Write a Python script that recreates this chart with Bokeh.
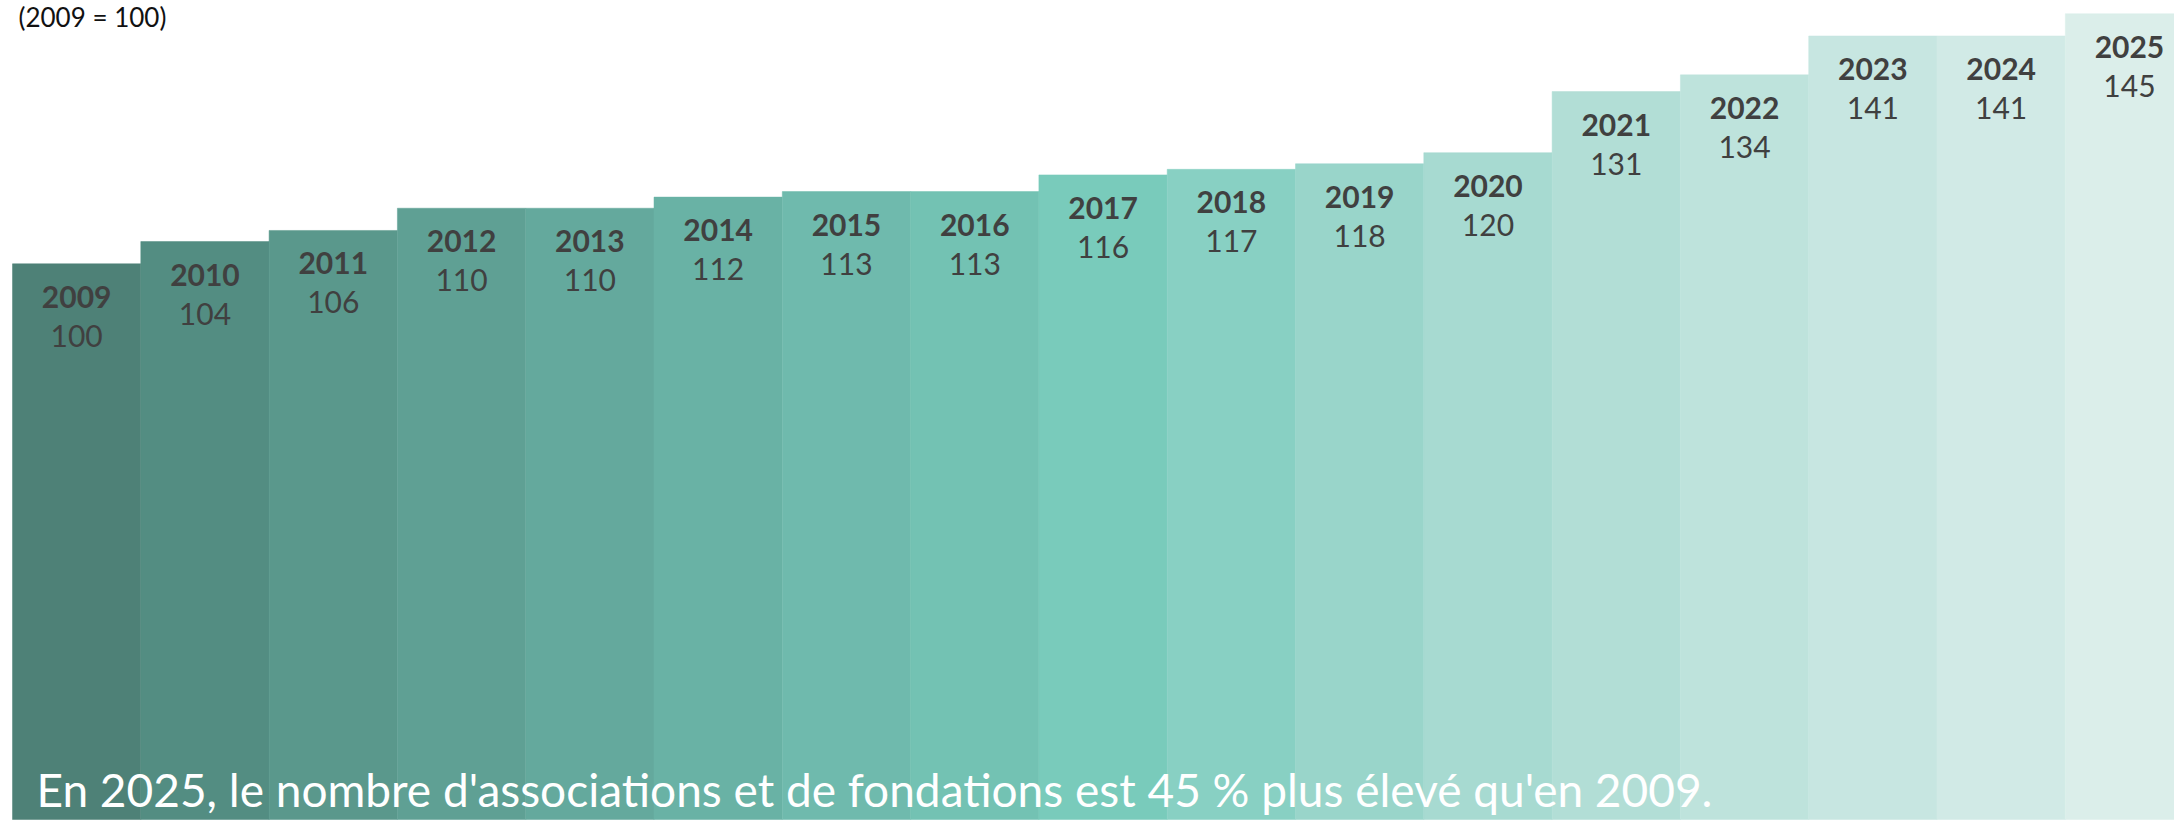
from bokeh.plotting import figure
from bokeh.models import ColumnDataSource, Range1d, Label
from bokeh.embed import file_html
from bokeh.resources import INLINE
from bokeh.core.properties import value

years = ["2009", "2010", "2011", "2012", "2013", "2014", "2015", "2016", "2017",
         "2018", "2019", "2020", "2021", "2022", "2023", "2024", "2025"]
values = [100, 104, 106, 110, 110, 112, 113, 113, 116, 117, 118, 120, 131, 134, 141, 141, 145]
colors = ["#4e8177", "#538d82", "#5a988c", "#5fa094", "#64a99d", "#69b2a5", "#6fbaad",
          "#73c2b3", "#79cbbb", "#88d0c3", "#99d5ca", "#a7dad1", "#b2ded6", "#bee3dc",
          "#c7e6e1", "#d1eae6", "#dbeeea"]
subtitle = "(2009 = 100)"
note = "En 2025, le nombre d'associations et de fondations est 45 % plus élevé qu'en 2009."

W, H = 2174, 820
px_x = 128.3
px_y = 5.557
x0 = -12 / px_x
y0 = -1 / px_y

src = ColumnDataSource(dict(
    x=[i + 0.5 for i in range(len(years))],
    top=values,
    year=years,
    label=[str(v) for v in values],
    color=colors,
))

p = figure(width=W, height=H, output_backend="svg", toolbar_location=None,
           x_axis_type=None, y_axis_type=None,
           x_range=Range1d(x0, x0 + W / px_x), y_range=Range1d(y0, y0 + H / px_y),
           min_border=0, outline_line_color=None)
p.background_fill_color = "white"
p.border_fill_color = "white"

p.vbar(x="x", top="top", bottom=0, width=1.0, fill_color="color", line_color="color",
       line_width=0.5, source=src)

p.text(x="x", y="top", text="year", source=src, text_align="center",
       text_baseline="middle", y_offset=33, text_font=value("Lato"),
       text_font_style="bold", text_font_size="30px", text_color="#404040")
p.text(x="x", y="top", text="label", source=src, text_align="center",
       text_baseline="middle", y_offset=72, text_font=value("Lato"),
       text_font_style="normal", text_font_size="30px", text_color="#404040")

p.add_layout(Label(x=18, y=H, x_units="screen", y_units="screen", text=subtitle,
                   text_baseline="top", text_font="Lato", text_font_size="26px",
                   text_color="#111111"))
p.add_layout(Label(x=36, y=31, x_units="screen", y_units="screen", text=note,
                   text_baseline="middle", text_font="Lato", text_font_size="46px",
                   text_color="white"))

open("out.html", "w").write(file_html(p, INLINE))
